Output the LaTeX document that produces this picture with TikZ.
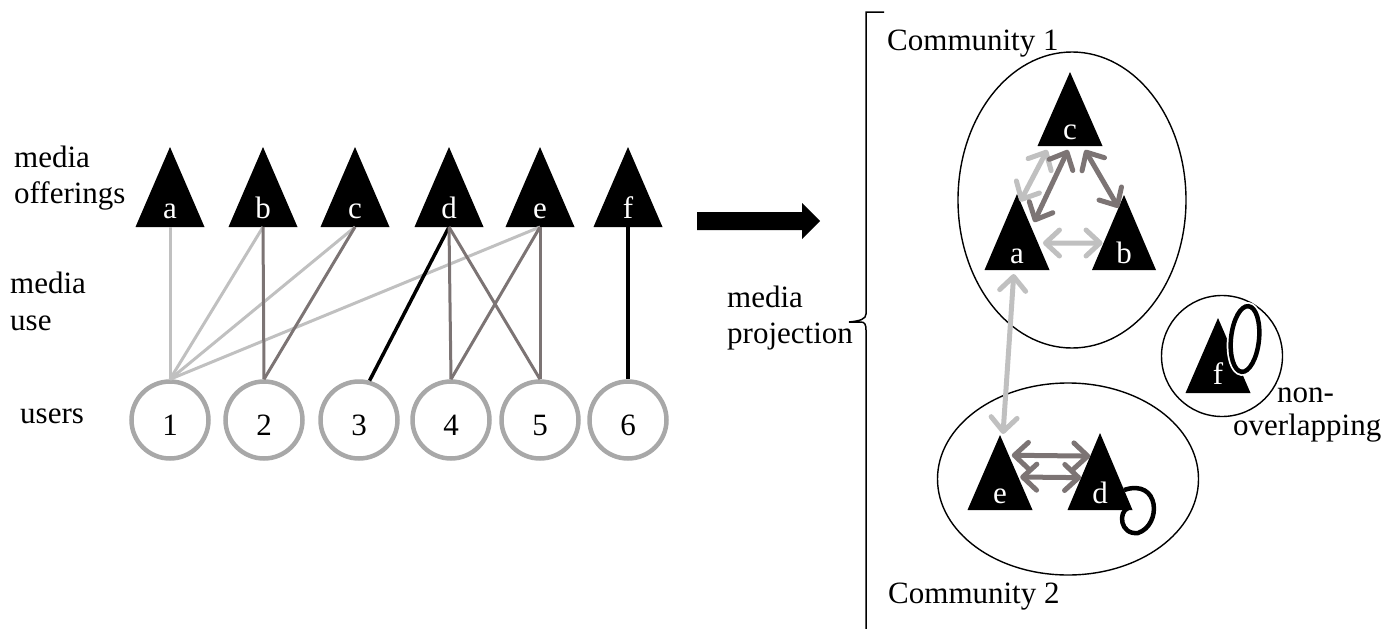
\documentclass[tikz,border=0pt]{standalone}
\usepackage{fontspec}
\setmainfont{Liberation Serif}
\usetikzlibrary{arrows.meta,shapes.geometric,calc}
\definecolor{lgray}{RGB}{192,192,192}
\definecolor{mgray}{RGB}{124,116,116}
\definecolor{cgray}{RGB}{168,168,168}
% #1 name, #2 centre x, #3 base y, #4 half width, #5 height, #6 letter, #7 baseline offset
\newcommand\mytri[7]{%
  \coordinate (#1-t) at (#2,#3-#5);
  \coordinate (#1-l) at (#2-#4,#3);
  \coordinate (#1-r) at (#2+#4,#3);
  \coordinate (#1-b) at (#2,#3);
  \fill (#1-t) -- (#1-l) -- (#1-r) -- cycle;
  \node[tlabel] (#1) at (#2,#3-#7) {#6};
}
\begin{document}
\begin{tikzpicture}[x=1pt,y=-1pt,
  txt/.style={font=\fontsize{31}{36}\selectfont, anchor=base west, inner sep=0pt},
  tlabel/.style={font=\fontsize{31}{36}\selectfont, text=white, anchor=base, inner sep=0pt},
  num/.style={font=\fontsize{31}{36}\selectfont, anchor=base, inner sep=0pt},
  user/.style={circle, draw=cgray, line width=4.5pt, minimum size=77pt, inner sep=0pt},
  lgl/.style={draw=lgray, line width=3pt},
  mgl/.style={draw=mgray, line width=3pt},
  bkl/.style={draw=black, line width=3.5pt},
  comm/.style={ellipse, draw=black, line width=1.4pt, inner sep=0pt},
  barb/.tip={Straight Barb[length=14pt 0 0, width=26pt 0 0, round]},
  arr/.style={line width=5pt, barb-barb},
  loopline/.style={draw=black, line width=4.5pt},
]
\useasboundingbox (0,0) rectangle (1400,629);

% ---------- left: bipartite graph ----------
\node[txt] (lo1) at (14,167) {media};
\node[txt] (lo2) at (14,203) {offerings};
\node[txt] (lu1) at (10,293) {media};
\node[txt] (lu2) at (10,330) {use};
\node[txt] (lus) at (20,423) {users};

\mytri{ma}{170}{227}{34.5}{80}{a}{9}
\mytri{mb}{263}{227}{34.5}{80}{b}{9}
\mytri{mc}{355}{227}{34.5}{80}{c}{9}
\mytri{md}{449}{227}{34.5}{80}{d}{9}
\mytri{me}{540}{227}{34.5}{80}{e}{9}
\mytri{mf}{628}{227}{34.5}{80}{f}{9}

\node[user] (u1) at (170,420) {};
\node[user] (u2) at (264,420) {};
\node[user] (u3) at (359,420) {};
\node[user] (u4) at (451,420) {};
\node[user] (u5) at (540,420) {};
\node[user] (u6) at (628,420) {};
\node[num] (n1) at (170,435) {1};
\node[num] (n2) at (264,435) {2};
\node[num] (n3) at (359,435) {3};
\node[num] (n4) at (451,435) {4};
\node[num] (n5) at (540,435) {5};
\node[num] (n6) at (628,435) {6};

\draw[lgl] (ma-b) -- (u1.north);
\draw[lgl] (mb-b) -- (u1.north);
\draw[lgl] (mc-b) -- (u1.north);
\draw[lgl] (me-b) -- (u1.north);
\draw[mgl] (mb-b) -- (u2.north);
\draw[mgl] (mc-b) -- (u2.north);
\draw[bkl] (md-b) -- (u3.75);
\draw[mgl] (md-b) -- (u4.north);
\draw[mgl] (md-b) -- (u5.north);
\draw[mgl] (me-b) -- (u4.north);
\draw[mgl] (me-b) -- (u5.north);
\draw[bkl] (mf-b) -- (u6.north);

% ---------- big arrow ----------
\fill (697,212) -- (802,212) -- (802,203) -- (820,221) -- (802,239) -- (802,230) -- (697,230) -- cycle;
\node[txt] (mp1) at (727,307) {media};
\node[txt] (mp2) at (727,343) {projection};

% ---------- brace ----------
\draw[line width=1.5pt] (884,12) -- (866,12) -- (866,314)
  .. controls (866,319) and (860,321) .. (849,322) -- (861,322)
  .. controls (865,322) and (866,325) .. (866,330) -- (866,629);

% ---------- right: projection ----------
\node[comm, minimum width=228pt, minimum height=296pt] (C1) at (1072,200) {};
\node[comm, minimum width=261pt, minimum height=192pt] (C2) at (1068,479) {};
\node[comm, circle, minimum size=121pt] (C3) at (1222,356) {};

\node[txt] (t1) at (887,50) {Community 1};
\node[txt] (t2) at (888,603) {Community 2};
\node[txt] (t3) at (1277,402) {non-};
\node[txt] (t4) at (1233,435) {overlapping};

\mytri{cc}{1070}{146}{32.5}{74}{c}{7}
\mytri{ca}{1017}{270}{32.5}{76}{a}{7}
\mytri{cb}{1124}{270}{32}{75}{b}{7}
\mytri{ce}{1000}{510}{32.5}{75}{e}{7}
\mytri{cd}{1100}{510}{32.5}{77}{d}{7}
\mytri{cf}{1218}{393}{32.5}{75}{f}{9}

\draw[arr, lgray] ($(ca-t)!0.1!(ca-r)$) -- ($(cc-l)!0.15!(cc-r)+(0,4)$);
\draw[arr, mgray] ($(ca-t)!0.37!(ca-r)+(5,0)$) -- ($(cc-l)!0.47!(cc-r)+(0,4)$);
\draw[arr, mgray] ($(cc-l)!0.73!(cc-r)+(0,4)$) -- ($(cb-t)!0.17!(cb-l)$);
\draw[arr, lgray] ($(ca-t)!0.645!(ca-r)+(5,0)$) -- ($(cb-t)!0.64!(cb-l)+(-1,0)$);
\draw[arr, lgray] ($(ca-l)!0.45!(ca-r)+(0,4)$) -- ($(ce-t)+(3,-1)$);
\draw[arr, mgray] ($(ce-t)!0.27!(ce-r)+(3,0)$) -- ($(cd-t)!0.3!(cd-l)$);
\draw[arr, mgray] ($(ce-t)!0.56!(ce-r)+(2,0)$) -- ($(cd-t)!0.58!(cd-l)$);

% self loops
\draw[loopline] ($(cd-t)!0.74!(cd-r)$) .. controls (1160,478) and (1162,525) .. (1138,533)
  .. controls (1120,535) and (1118,512) .. (1128,508);
\draw[white, line width=8pt] (1245,339) ellipse [x radius=14, y radius=33, rotate=-6];
\draw[loopline, fill=white] (1245,339) ellipse [x radius=14, y radius=33, rotate=-6];
\end{tikzpicture}
\end{document}
